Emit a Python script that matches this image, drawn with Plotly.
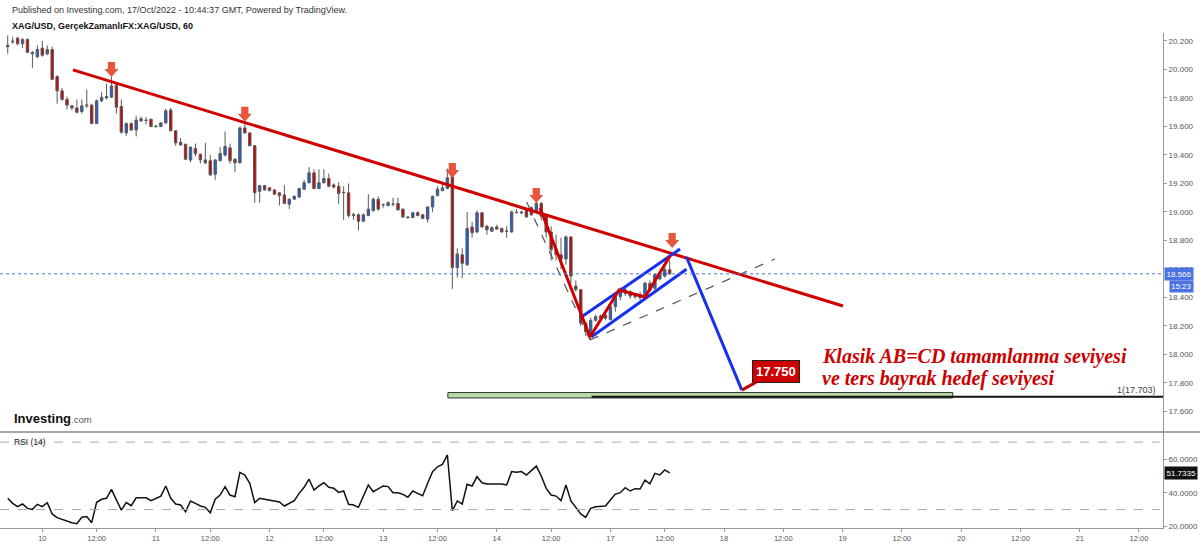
import plotly.graph_objects as go

# ---------------- data ----------------
opens = [20.17, 20.20, 20.22, 20.18, 20.21, 20.12, 20.09, 20.15, 20.11, 20.14,
         19.95, 19.85, 19.79, 19.745, 19.73, 19.705, 19.745, 19.75, 19.62, 19.78,
         19.80, 19.805, 19.89, 19.74, 19.555, 19.62, 19.575, 19.655, 19.645, 19.65,
         19.60, 19.60, 19.625, 19.715, 19.57, 19.49, 19.475, 19.365, 19.445, 19.405,
         19.365, 19.36, 19.265, 19.36, 19.40, 19.45, 19.37, 19.345, 19.59, 19.555,
         19.465, 19.145, 19.185, 19.17, 19.155, 19.135, 19.12, 19.055, 19.09, 19.105,
         19.16, 19.205, 19.275, 19.165, 19.205, 19.235, 19.19, 19.18, 19.135, 19.135,
         18.975, 18.98, 18.935, 18.975, 19.01, 19.09, 19.05, 19.045, 19.055, 19.06,
         19.02, 18.965, 18.962, 18.995, 18.98, 18.95, 19.035, 19.115, 19.15, 19.165,
         19.25, 18.61, 18.70, 18.63, 18.895, 18.86, 18.995, 18.90, 18.865, 18.895,
         18.885, 18.865, 18.86, 18.995, 19.00, 19.01, 19.03, 19.01, 19.06, 18.97,
         18.86, 18.74, 18.70, 18.67, 18.825, 18.48, 18.455, 18.22, 18.135, 18.24,
         18.255, 18.275, 18.245, 18.335, 18.405, 18.455, 18.44, 18.42, 18.42, 18.42,
         18.50, 18.465, 18.53, 18.55, 18.595]
highs = [20.24, 20.23, 20.23, 20.22, 20.22, 20.13, 20.17, 20.20, 20.17, 20.16,
         19.96, 19.87, 19.81, 19.75, 19.79, 19.79, 19.86, 19.76, 19.79, 19.84,
         19.90, 19.95, 19.90, 19.79, 19.63, 19.63, 19.675, 19.67, 19.665, 19.655,
         19.61, 19.63, 19.725, 19.73, 19.575, 19.52, 19.48, 19.46, 19.48, 19.41,
         19.485, 19.40, 19.37, 19.455, 19.565, 19.48, 19.38, 19.60, 19.62, 19.56,
         19.47, 19.19, 19.19, 19.175, 19.16, 19.14, 19.19, 19.095, 19.115, 19.17,
         19.225, 19.315, 19.30, 19.30, 19.30, 19.27, 19.20, 19.21, 19.18, 19.20,
         18.995, 18.99, 18.99, 19.125, 19.10, 19.11, 19.06, 19.075, 19.10, 19.10,
         19.025, 18.97, 19.00, 19.005, 18.985, 19.04, 19.115, 19.18, 19.20, 19.305,
         19.26, 18.745, 18.745, 19.00, 18.93, 19.01, 19.00, 18.91, 18.90, 18.91,
         18.89, 18.90, 19.01, 19.02, 19.01, 19.02, 19.04, 19.075, 19.07, 18.98,
         18.90, 18.84, 18.82, 18.835, 18.83, 18.52, 18.46, 18.23, 18.26, 18.28,
         18.28, 18.29, 18.34, 18.41, 18.47, 18.47, 18.45, 18.43, 18.44, 18.51,
         18.52, 18.57, 18.58, 18.64, 18.66]
lows = [20.11, 20.18, 20.17, 20.15, 20.12, 20.01, 20.08, 20.09, 20.10, 19.93,
        19.76, 19.78, 19.72, 19.715, 19.69, 19.69, 19.73, 19.62, 19.62, 19.77,
        19.79, 19.80, 19.69, 19.55, 19.535, 19.57, 19.53, 19.63, 19.615, 19.595,
        19.59, 19.595, 19.62, 19.565, 19.465, 19.465, 19.365, 19.35, 19.39, 19.34,
        19.335, 19.255, 19.225, 19.355, 19.39, 19.34, 19.28, 19.34, 19.55, 19.46,
        19.065, 19.065, 19.15, 19.145, 19.12, 19.045, 19.055, 19.02, 19.085, 19.10,
        19.155, 19.20, 19.16, 19.16, 19.20, 19.175, 19.165, 19.055, 18.945, 18.96,
        18.945, 18.87, 18.93, 18.97, 19.00, 19.01, 19.03, 19.04, 19.04, 19.01,
        18.96, 18.955, 18.955, 18.97, 18.95, 18.925, 19.00, 19.11, 19.145, 19.16,
        18.46, 18.54, 18.535, 18.62, 18.82, 18.85, 18.89, 18.84, 18.86, 18.875,
        18.855, 18.82, 18.855, 18.99, 18.985, 18.96, 18.975, 19.00, 18.94, 18.82,
        18.66, 18.66, 18.60, 18.63, 18.50, 18.44, 18.20, 18.13, 18.105, 18.23,
        18.24, 18.24, 18.24, 18.30, 18.38, 18.41, 18.39, 18.39, 18.38, 18.40,
        18.44, 18.45, 18.52, 18.54, 18.56]
closes = [20.16, 20.195, 20.18, 20.21, 20.12, 20.11, 20.14, 20.10, 20.14, 19.93,
          19.85, 19.79, 19.75, 19.73, 19.70, 19.745, 19.75, 19.62, 19.78, 19.805,
          19.81, 19.885, 19.735, 19.56, 19.62, 19.575, 19.645, 19.64, 19.643, 19.60,
          19.602, 19.625, 19.71, 19.57, 19.485, 19.47, 19.37, 19.455, 19.41, 19.365,
          19.345, 19.26, 19.365, 19.41, 19.46, 19.36, 19.345, 19.59, 19.555, 19.465,
          19.135, 19.185, 19.155, 19.15, 19.125, 19.115, 19.06, 19.09, 19.11, 19.165,
          19.205, 19.275, 19.165, 19.205, 19.235, 19.18, 19.175, 19.13, 19.137, 18.975,
          18.98, 18.935, 18.98, 19.02, 19.09, 19.02, 19.051, 19.065, 19.056, 19.015,
          18.965, 18.96, 18.995, 18.975, 18.955, 19.035, 19.11, 19.16, 19.17, 19.24,
          18.61, 18.705, 18.64, 18.885, 18.855, 18.995, 18.895, 18.875, 18.89, 18.88,
          18.86, 18.866, 19.00, 18.998, 18.995, 18.965, 18.98, 19.06, 18.97, 18.86,
          18.735, 18.70, 18.67, 18.825, 18.55, 18.455, 18.22, 18.16, 18.24, 18.265,
          18.27, 18.255, 18.335, 18.405, 18.455, 18.43, 18.41, 18.405, 18.40, 18.50,
          18.45, 18.56, 18.57, 18.595, 18.566]
rsi = [36.7, 33.7, 31.7, 33.3, 30.7, 30.1, 33.1, 31.7, 34.1, 27.4,
       25.2, 24.2, 22.8, 22.2, 21.6, 25.4, 25.8, 22.2, 34.3, 36.1,
       36.7, 42.0, 35.7, 29.7, 34.1, 32.3, 37.0, 37.0, 37.0, 35.3,
       36.7, 38.0, 44.0, 36.7, 33.3, 32.7, 28.7, 35.1, 33.7, 32.1,
       31.3, 28.1, 36.1, 38.6, 43.6, 38.6, 37.6, 52.1, 50.5, 45.6,
       34.1, 36.7, 36.1, 35.7, 35.1, 34.5, 32.1, 33.7, 35.3, 39.6,
       43.2, 48.0, 41.6, 44.0, 45.9, 43.2, 42.6, 40.2, 41.0, 33.1,
       32.7, 31.3, 38.0, 44.6, 40.6, 42.4, 44.0, 43.6, 40.0, 40.0,
       39.0, 37.3, 41.0, 39.6, 38.2, 45.6, 52.5, 55.4, 56.8, 62.4,
       29.3, 35.1, 33.3, 45.0, 44.0, 49.5, 45.9, 45.2, 45.2, 45.6,
       45.2, 44.6, 52.5, 52.1, 52.5, 50.5, 52.9, 55.8, 49.9, 42.6,
       38.6, 38.0, 35.3, 44.6, 35.1, 31.3, 27.4, 25.4, 30.7, 31.7,
       31.7, 32.1, 35.7, 39.2, 40.0, 43.0, 41.0, 42.4, 42.2, 47.5,
       45.2, 51.5, 50.5, 53.5, 51.7]
first_bar = -7
bars = list(range(first_bar, first_bar + len(closes)))

x_tick_pos = [0, 11, 23, 34, 46, 57, 69, 80, 92, 103, 115, 126, 138, 150,
              162, 174, 186, 198, 210, 222]
x_tick_text = ["10", "12:00", "11", "12:00", "12", "12:00", "13", "12:00", "14",
               "12:00", "17", "12:00", "18", "12:00", "19", "12:00", "20",
               "12:00", "21", "12:00"]
price_ticks = [17.6, 17.8, 18.0, 18.2, 18.4, 18.6, 18.8, 19.0, 19.2, 19.4,
               19.6, 19.8, 20.0, 20.2]
rsi_ticks = [20, 40, 60]
rsi_levels = [70, 30]
last_price = 18.566
last_rsi = 51.7335
countdown = "15:23"
fib_level = 17.703
target_price = 17.750

# drawings (bar index / price)
trend_x = [6.2, 162.1]
trend_y = [19.997, 18.34]
abcd_x = [100.75, 110.87, 116.74, 122.0, 127.07]
abcd_y = [19.028, 18.123, 18.453, 18.404, 18.691]
flag_up_x = [109.2, 129.1]
flag_up_y = [18.265, 18.74]
flag_lo_x = [111.2, 130.4]
flag_lo_y = [18.125, 18.598]
proj_x = [130.4, 141.6]
proj_y = [18.684, target_price]
guide1_x = [98.05, 110.87]
guide1_y = [19.07, 18.102]
guide2_x = [110.87, 148.3]
guide2_y = [18.102, 18.67]
arrow_x = [14, 41, 83, 100, 127.5]
arrow_y = [19.947, 19.634, 19.239, 19.063, 18.747]
zone_x = [82.1, 184.3]
zone_y = [17.695, 17.733]
fib_start = 111.2

# ---------------- figure ----------------
W, H = 1200, 545
ML, MR, MT, MB = 0, 37, 33, 17
split = (528 - 432) / (H - MT - MB)
x_range = [-8.563, 226.86]

fig = go.Figure()
fig.add_trace(go.Candlestick(
    x=bars, open=opens, high=highs, low=lows, close=closes,
    increasing=dict(fillcolor="#1f5fd6", line=dict(color="#5a5a5a", width=1)),
    decreasing=dict(fillcolor="#cc0000", line=dict(color="#5a5a5a", width=1)),
    whiskerwidth=0, hoverinfo="skip", xaxis="x", yaxis="y"))

red = "#d00000"
blue = "#1530f0"
def line(xs, ys, color, width, dash="solid"):
    fig.add_trace(go.Scatter(x=xs, y=ys, mode="lines", hoverinfo="skip",
                             line=dict(color=color, width=width, dash=dash),
                             xaxis="x", yaxis="y"))

line(guide1_x, guide1_y, "#555555", 1.2, "dash")
line(guide2_x, guide2_y, "#555555", 1.2, "dash")
line(trend_x, trend_y, red, 3)
line(flag_up_x, flag_up_y, blue, 3)
line(flag_lo_x, flag_lo_y, blue, 3)
line(proj_x, proj_y, blue, 3)
line(abcd_x, abcd_y, red, 3)

fig.add_trace(go.Scatter(x=bars, y=rsi, mode="lines", hoverinfo="skip",
                         line=dict(color="#111111", width=1.5),
                         xaxis="x2", yaxis="y2"))

shapes = []
# current price dotted line
shapes.append(dict(type="line", xref="paper", x0=0, x1=1, yref="y",
                   y0=last_price, y1=last_price,
                   line=dict(color="#4a72e0", width=1, dash="dot")))
# green target zone
shapes.append(dict(type="rect", xref="x", yref="y", x0=zone_x[0], x1=zone_x[1],
                   y0=zone_y[0], y1=zone_y[1], fillcolor="#b8dca6",
                   line=dict(color="#333333", width=1)))
# fib level line
shapes.append(dict(type="line", xref="x", yref="y", x0=fib_start, x1=x_range[1],
                   y0=fib_level, y1=fib_level, line=dict(color="#111111", width=2)))
# red arrows
arrow_path = "M0,0 L-7,8 L-3.6,8 L-3.6,15 L3.6,15 L3.6,8 L7,8 Z"
for ax_, ay_ in zip(arrow_x, arrow_y):
    shapes.append(dict(type="path", xref="x", yref="y", xsizemode="pixel",
                       ysizemode="pixel", xanchor=ax_, yanchor=ay_,
                       path=arrow_path, fillcolor="#e6563c",
                       line=dict(width=0)))
# RSI levels
for lv in rsi_levels:
    shapes.append(dict(type="line", xref="paper", x0=0, x1=0.997, yref="y2",
                       y0=lv, y1=lv, line=dict(color="#a8a8a8", width=1, dash="dash")))
# pane separator
shapes.append(dict(type="line", xref="paper", x0=0, x1=1.035, yref="paper",
                   y0=split, y1=split, line=dict(color="#8a8a8a", width=1.5)))

font_sans = "Liberation Sans, Arial, sans-serif"
ann = []
def py(p):
    return (H - MB - p) / (H - MT - MB)

ann.append(dict(text="Published on Investing.com, 17/Oct/2022 - 10:44:37 GMT, Powered by TradingView.",
                xref="paper", yref="paper", x=10 / 1163, y=py(10), xanchor="left",
                yanchor="middle", showarrow=False,
                font=dict(family=font_sans, size=9, color="#333333")))
ann.append(dict(text="<b>XAG/USD, GerçekZamanlıFX:XAG/USD, 60</b>",
                xref="paper", yref="paper", x=10 / 1163, y=py(26), xanchor="left",
                yanchor="middle", showarrow=False,
                font=dict(family=font_sans, size=9, color="#111111")))
ann.append(dict(text="<b>Investing</b><span style='font-size:9.5px;color:#555555'>.com</span>",
                xref="paper", yref="paper", x=12 / 1163, y=py(418), xanchor="left",
                yanchor="middle", showarrow=False,
                font=dict(family=font_sans, size=13, color="#111111")))
ann.append(dict(text="RSI (14)", xref="paper", yref="paper", x=12 / 1163, y=py(442),
                xanchor="left", yanchor="middle", showarrow=False,
                font=dict(family=font_sans, size=8.5, color="#222222")))
serif = "Liberation Serif, Times New Roman, serif"
ann.append(dict(text="<b><i>Klasik AB=CD tamamlanma seviyesi</i></b>", xref="x", yref="y",
                x=157.4, y=17.985, xanchor="left", yanchor="middle", showarrow=False,
                font=dict(family=serif, size=20, color="#cc0000")))
ann.append(dict(text="<b><i>ve ters bayrak hedef seviyesi</i></b>", xref="x", yref="y",
                x=157.4, y=17.832, xanchor="left", yanchor="middle", showarrow=False,
                font=dict(family=serif, size=20, color="#cc0000")))
ann.append(dict(text="<b>%.3f</b>" % target_price, xref="x", yref="y",
                x=proj_x[1], y=target_price, ax=34, ay=-19, showarrow=True,
                arrowhead=0, arrowwidth=3, arrowcolor="#c00000", standoff=0,
                bgcolor="#cc0000", bordercolor="#222222", borderwidth=1, borderpad=3,
                font=dict(family=font_sans, size=13, color="white")))
ann.append(dict(text="1(%.3f)" % fib_level, xref="paper", yref="y", x=1, xshift=-5,
                y=fib_level, xanchor="right", yanchor="bottom", showarrow=False,
                font=dict(family=font_sans, size=9, color="#444444")))
ann.append(dict(text="%.3f" % last_price, xref="paper", yref="y", x=1, xshift=1,
                y=last_price, xanchor="left", yanchor="middle", showarrow=False,
                bgcolor="#4a72e0", borderpad=1.5,
                font=dict(family=font_sans, size=8, color="white")))
ann.append(dict(text=countdown, xref="paper", yref="y", x=1, xshift=6,
                y=last_price, yshift=-13, xanchor="left", yanchor="middle",
                showarrow=False, bgcolor="#4a72e0", borderpad=1,
                font=dict(family=font_sans, size=8, color="white")))
ann.append(dict(text="%.4f" % last_rsi, xref="paper", yref="y2", x=1, xshift=1,
                y=last_rsi, xanchor="left", yanchor="middle", showarrow=False,
                bgcolor="#111111", borderpad=1.5,
                font=dict(family=font_sans, size=8, color="white")))

tickfont = dict(family=font_sans, size=8, color="#555555")
fig.update_layout(
    width=W, height=H, margin=dict(l=ML, r=MR, t=MT, b=MB),
    plot_bgcolor="white", paper_bgcolor="white", showlegend=False,
    shapes=shapes, annotations=ann,
    xaxis=dict(domain=[0, 1], anchor="y", range=x_range, showticklabels=False,
               showgrid=False, zeroline=False, showline=False, ticks="",
               rangeslider=dict(visible=False), fixedrange=True),
    yaxis=dict(domain=[split, 1], anchor="x", side="right", range=[17.4561, 20.2561],
               tickvals=price_ticks, tickformat=".3f", showgrid=False, zeroline=False,
               showline=True, linecolor="#999999", linewidth=1, ticks="outside",
               ticklen=3, tickcolor="#999999", tickfont=tickfont),
    xaxis2=dict(domain=[0, 1], anchor="y2", range=x_range, tickvals=x_tick_pos,
                ticktext=x_tick_text, showgrid=False, zeroline=False, showline=True,
                linecolor="#999999", linewidth=1, ticks="outside", ticklen=3,
                tickcolor="#999999", tickfont=dict(family=font_sans, size=7.5, color="#555555")),
    yaxis2=dict(domain=[0, split], anchor="x2", side="right", range=[19.05, 76.02],
                tickvals=rsi_ticks, tickformat=".4f", showgrid=False, zeroline=False,
                showline=True, linecolor="#999999", linewidth=1, ticks="outside",
                ticklen=3, tickcolor="#999999", tickfont=tickfont),
)
fig.write_html("out.html")
